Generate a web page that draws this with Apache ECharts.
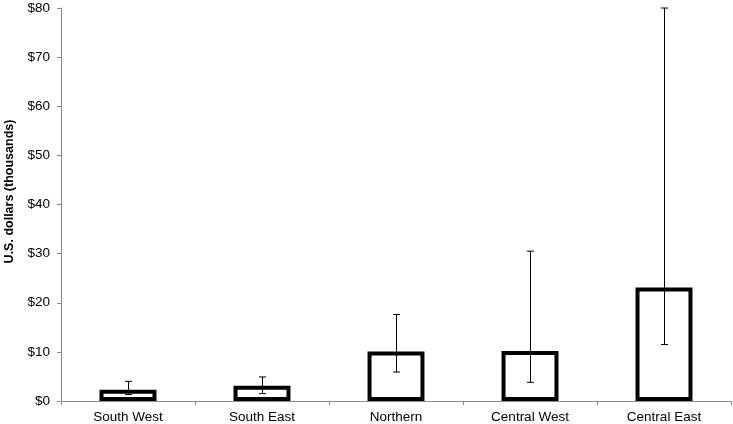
<!DOCTYPE html>
<html>
<head>
<meta charset="utf-8">
<script src="https://cdn.jsdelivr.net/npm/echarts@6/dist/echarts.min.js"></script>
<style>
    html, body {margin: 0; padding: 0; background: #ffffff;}
    #chart {width: 733px; height: 424px;}
</style>
</head>
<body>
<div id="chart"></div>
<script>
// 地区及数值（千美元）
var regions = ['South West', 'South East', 'Northern', 'Central West', 'Central East'];
var meanValues = [2.3, 3.1, 10.1, 10.2, 23.1];
var lowValues = [1.3, 1.5, 5.9, 3.8, 11.5];
var highValues = [4.0, 4.9, 17.6, 30.5, 80.0];

var errorData = regions.map(function (name, i) {
    return [i, lowValues[i], highValues[i]];
});

var chart = echarts.init(document.getElementById('chart'));
var axisColor = '#8c8c8c';
var font = 'Liberation Sans, Arial, sans-serif';

var option = {
    animation: false,
    grid: {
        left: 61,
        right: 2,
        top: 8,
        bottom: 23,
        containLabel: false,
        outerBoundsMode: 'none'
    },
    xAxis: {
        type: 'category',
        data: regions,
        axisLine: {lineStyle: {color: axisColor, width: 1}},
        axisTick: {show: true, length: 4, lineStyle: {color: axisColor}},
        axisLabel: {color: '#000000', fontSize: 13.5, fontFamily: font, margin: 9},
        splitLine: {show: false}
    },
    yAxis: {
        type: 'value',
        min: 0,
        max: 80,
        interval: 10,
        name: 'U.S. dollars (thousands)',
        nameLocation: 'middle',
        nameGap: 45,
        nameTextStyle: {
            color: '#000000',
            fontSize: 12.5,
            fontWeight: 'bold',
            fontFamily: font,
            padding: [0, 0, 0, 26]
        },
        axisLine: {show: true, lineStyle: {color: axisColor, width: 1}},
        axisTick: {show: true, length: 4, lineStyle: {color: axisColor}},
        axisLabel: {
            color: '#000000',
            fontSize: 13.5,
            fontFamily: font,
            margin: 11,
            formatter: function (v) {
                return '$' + v;
            }
        },
        splitLine: {show: false}
    },
    series: [
        {
            name: 'mean',
            type: 'bar',
            data: meanValues,
            barWidth: '42.5%',
            itemStyle: {
                color: '#ffffff',
                borderColor: '#000000',
                borderWidth: 4
            }
        },
        {
            name: 'range',
            type: 'custom',
            data: errorData,
            z: 10,
            renderItem: function (params, api) {
                var idx = api.value(0);
                var lo = api.coord([idx, api.value(1)]);
                var hi = api.coord([idx, api.value(2)]);
                var x = Math.round(lo[0]) + 0.5;
                var half = 3.5;
                var style = {stroke: '#000000', lineWidth: 1};
                return {
                    type: 'group',
                    children: [
                        {type: 'line', shape: {x1: x, y1: hi[1], x2: x, y2: lo[1]}, style: style},
                        {type: 'line', shape: {x1: x - half, y1: hi[1], x2: x + half, y2: hi[1]}, style: style},
                        {type: 'line', shape: {x1: x - half, y1: lo[1], x2: x + half, y2: lo[1]}, style: style}
                    ]
                };
            }
        }
    ]
};

chart.setOption(option);
</script>
</body>
</html>
